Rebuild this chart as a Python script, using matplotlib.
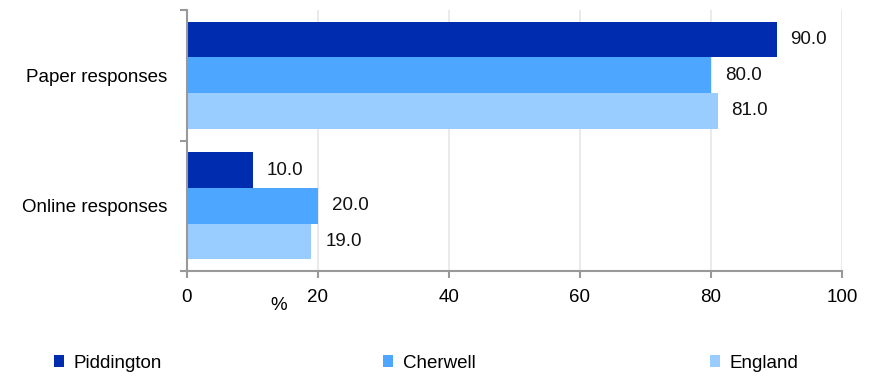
import matplotlib
matplotlib.use("Agg")
import matplotlib.pyplot as plt
from matplotlib.patches import Patch
import numpy as np

plt.rcParams['font.family'] = ['Liberation Sans', 'DejaVu Sans']

categories = ["Online responses", "Paper responses"]
series = ["Piddington", "Cherwell", "England"]
piddington = [10.0, 90.0]
cherwell = [20.0, 80.0]
england = [19.0, 81.0]
colors = ["#002db0", "#4da6ff", "#99ccff"]
xticks = [0, 20, 40, 60, 80, 100]

W, H = 874, 376
fig = plt.figure(figsize=(W / 100, H / 100), dpi=100)
ax = fig.add_axes([187 / W, 1 - 271 / H, (842 - 187) / W, (271 - 10) / H])

y = np.arange(len(categories))
bh = 0.273
values = [piddington, cherwell, england]
offsets = [bh, 0, -bh]
fs = 13.5
for vals, off, c, name in zip(values, offsets, colors, series):
    bars = ax.barh(y + off, vals, height=bh, color=c, label=name, zorder=3)
    for b, v in zip(bars, vals):
        ax.text(b.get_width() + 2.1, b.get_y() + b.get_height() / 2, f"{v:.1f}",
                va="center", ha="left", fontsize=fs, color="#111111")

ax.set_xlim(0, 100)
ax.set_ylim(-0.5, 1.5)
ax.set_xticks(xticks)
ax.set_xticklabels([str(t) for t in xticks], fontsize=fs)
ax.set_yticks(y)
ax.set_yticklabels(categories, fontsize=fs)
ax.set_yticks([-0.5, 0.5, 1.5], minor=True)
ax.tick_params(axis="y", which="major", length=0, pad=14)
ax.tick_params(axis="y", which="minor", length=5, color="#999999", width=1.5)
ax.tick_params(axis="x", length=5, color="#999999", width=1.5, pad=8)
ax.grid(axis="x", color="#e6e6e6", linewidth=1.2, zorder=0)
for s in ["top", "right"]:
    ax.spines[s].set_visible(False)
for s in ["left", "bottom"]:
    ax.spines[s].set_color("#999999")
    ax.spines[s].set_linewidth(1.5)
    ax.spines[s].set_zorder(4)

fig.text(279 / W, 1 - 305 / H, "%", ha="center", va="center", fontsize=fs)

legend_x = [54, 383, 710]
for name, c, lx in zip(series, colors, legend_x):
    h = [Patch(facecolor=c, edgecolor="none")]
    lg = fig.legend(h, [name], loc="center left", bbox_to_anchor=(lx / W, 1 - 363 / H),
                    frameon=False, fontsize=fs, handlelength=0.55, handleheight=0.55,
                    handletextpad=0.5, borderaxespad=0, borderpad=0)

fig.savefig("out.png", dpi=100)
